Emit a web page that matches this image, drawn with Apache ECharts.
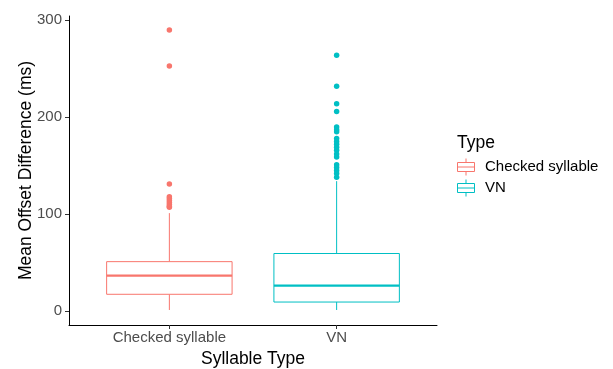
<!DOCTYPE html>
<html>
<head>
<meta charset="utf-8">
<script src="https://cdn.jsdelivr.net/npm/echarts@6/dist/echarts.min.js"></script>
<style>html,body{margin:0;padding:0;background:#fff;}#chart{width:613px;height:369px;}</style>
</head>
<body>
<div id="chart"></div>
<script>
// ---- data ----
const categories = ['Checked syllable', 'VN'];
const seriesNames = ['Checked syllable', 'VN'];
// [min(whisker), Q1, median, Q3, max(whisker)]
const checkedBox = [1, 17.2, 36.5, 50.9, 101];
const vnBox = [1, 9.2, 26.1, 59.3, 134];
const checkedOutliers = [290, 253, 131, 118, 116, 114, 112, 110, 108, 107];
const vnOutliers = [264, 232, 214, 206, 190, 187, 185, 178, 175, 172, 169, 166, 162, 159, 151, 148, 145, 142, 138];
const yTicks = [0, 100, 200, 300];
const colors = ['#F8766D', '#00BFC4'];

const FONT = 'Liberation Sans, Arial, sans-serif';
const boxes = [checkedBox, vnBox];
const outliers = [checkedOutliers, vnOutliers];

function renderBox(params, api) {
  const x = api.value(0);
  const min = api.value(1), q1 = api.value(2), med = api.value(3), q3 = api.value(4), max = api.value(5);
  const half = api.size([0.75, 0])[0] / 2;
  const pMin = api.coord([x, min]);
  const pQ1 = api.coord([x, q1]);
  const pMed = api.coord([x, med]);
  const pQ3 = api.coord([x, q3]);
  const pMax = api.coord([x, max]);
  const color = colors[params.seriesIndex / 2 | 0];
  return {
    type: 'group',
    children: [
      {type: 'line', shape: {x1: pMin[0], y1: pMin[1], x2: pQ1[0], y2: pQ1[1]}, style: {stroke: color, lineWidth: 1}},
      {type: 'line', shape: {x1: pQ3[0], y1: pQ3[1], x2: pMax[0], y2: pMax[1]}, style: {stroke: color, lineWidth: 1}},
      {type: 'rect', shape: {x: pQ3[0] - half, y: pQ3[1], width: half * 2, height: pQ1[1] - pQ3[1]}, style: {fill: '#fff', stroke: color, lineWidth: 1}},
      {type: 'line', shape: {x1: pMed[0] - half, y1: pMed[1], x2: pMed[0] + half, y2: pMed[1]}, style: {stroke: color, lineWidth: 2.2}}
    ]
  };
}

const series = [];
seriesNames.forEach((name, i) => {
  series.push({
    name: name,
    type: 'custom',
    renderItem: renderBox,
    encode: {x: 0, y: [1, 2, 3, 4, 5]},
    data: [[i + 1].concat(boxes[i])],
    itemStyle: {color: colors[i]},
    silent: true,
    z: 2
  });
  series.push({
    name: name,
    type: 'scatter',
    symbolSize: 5.5,
    itemStyle: {color: colors[i], opacity: 1},
    data: outliers[i].map(v => [i + 1, v]),
    silent: true,
    z: 3
  });
});

const iconPath = 'path://M9 0 L9 4 M0.5 4 L17.5 4 L17.5 13 L0.5 13 Z M0.5 8.5 L17.5 8.5 M9 13 L9 17';

const option = {
  backgroundColor: '#fff',
  animation: false,
  grid: {left: 69, right: 176, top: 16, bottom: 44, containLabel: false, outerBoundsMode: 'none'},
  title: {
    text: 'Type', left: 457, top: 134, padding: 0,
    textStyle: {fontFamily: FONT, fontSize: 17.5, fontWeight: 'normal', color: '#000'}
  },
  legend: {
    orient: 'vertical', left: 457, top: 158, padding: 0,
    itemWidth: 18, itemHeight: 17, itemGap: 3,
    selectedMode: false,
    textStyle: {fontFamily: FONT, fontSize: 15, color: '#000', padding: [0, 0, 0, 5]},
    data: seriesNames.map((n, i) => ({
      name: n, icon: iconPath,
      itemStyle: {color: '#fff', borderColor: colors[i], borderWidth: 1}
    }))
  },
  xAxis: {
    type: 'value', min: 0.4, max: 2.6,
    name: 'Syllable Type', nameLocation: 'middle', nameGap: 22,
    nameTextStyle: {fontFamily: FONT, fontSize: 17.5, color: '#000'},
    axisLine: {show: true, onZero: false, lineStyle: {color: '#000', width: 1}},
    axisTick: {show: true, length: 4, customValues: [1, 2], lineStyle: {color: '#333'}},
    axisLabel: {customValues: [1, 2], formatter: v => categories[Math.round(v) - 1], fontFamily: FONT, fontSize: 15, color: '#4D4D4D', margin: 5},
    splitLine: {show: false}
  },
  yAxis: {
    type: 'value', min: -14.5, max: 304.5,
    name: 'Mean Offset Difference (ms)', nameLocation: 'middle', nameGap: 34, nameMoveOverlap: false,
    nameTextStyle: {fontFamily: FONT, fontSize: 17.5, color: '#000'},
    axisLine: {show: true, onZero: false, lineStyle: {color: '#000', width: 1}},
    axisTick: {show: true, length: 4, customValues: yTicks, lineStyle: {color: '#333'}},
    axisLabel: {customValues: yTicks, fontFamily: FONT, fontSize: 15, color: '#4D4D4D', margin: 7},
    splitLine: {show: false}
  },
  series: series
};

const chart = echarts.init(document.getElementById('chart'), null, {renderer: 'canvas'});
chart.setOption(option);
</script>
</body>
</html>
